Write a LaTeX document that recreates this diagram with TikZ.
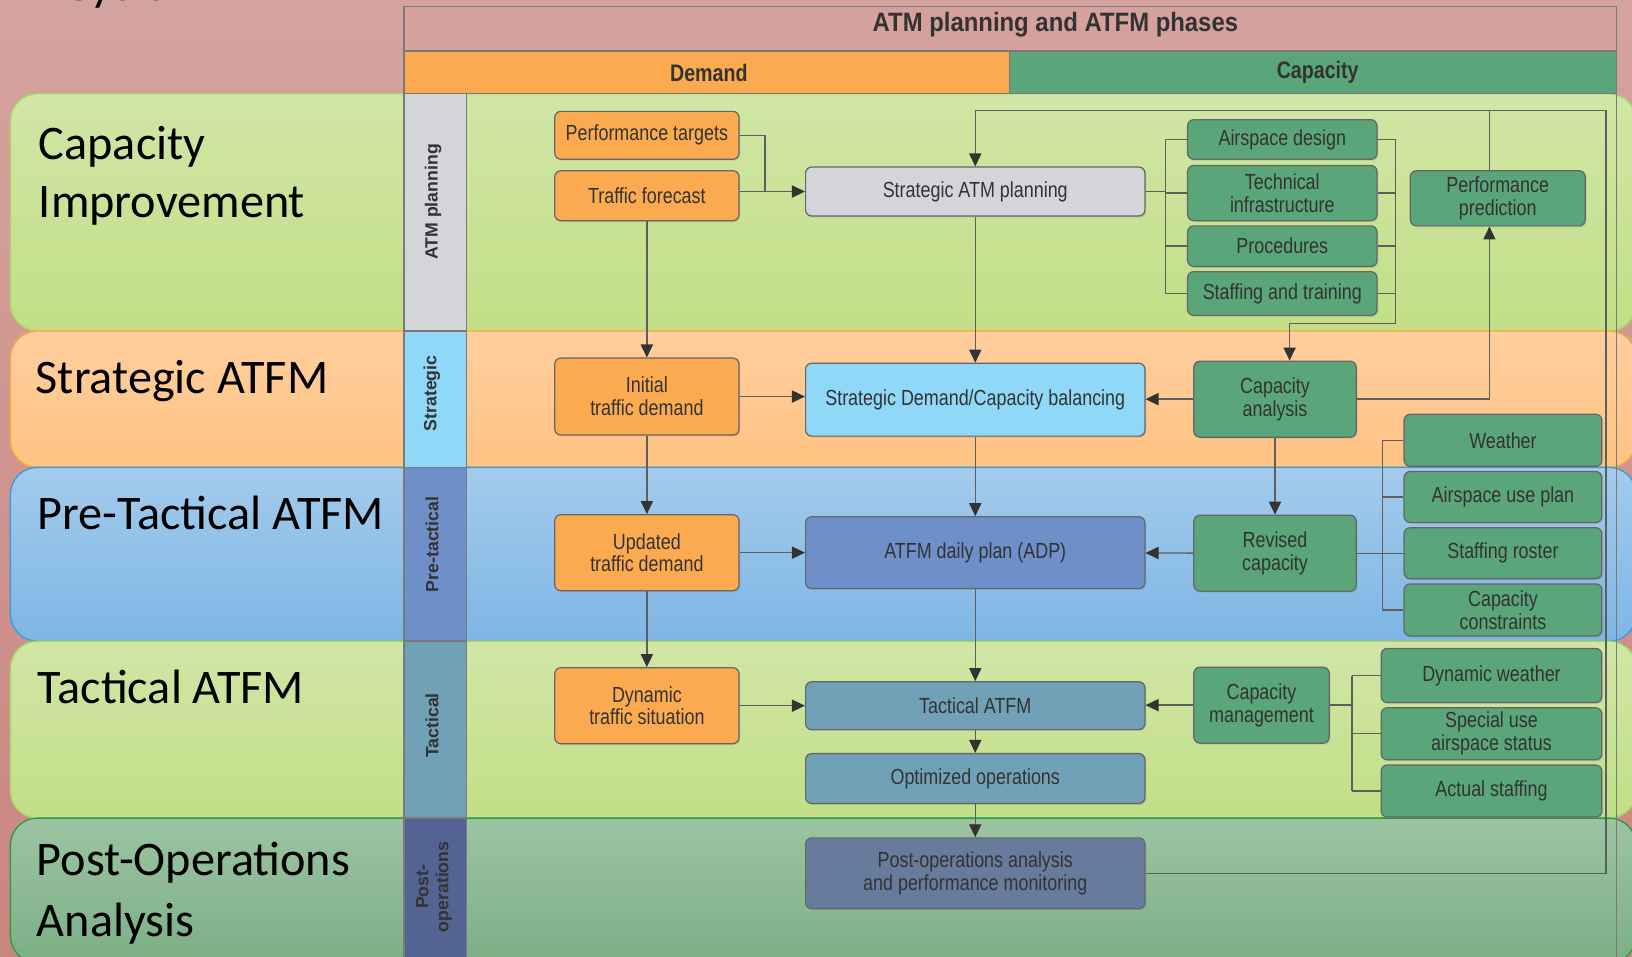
\documentclass[tikz,border=0pt]{standalone}
\usepackage{fontspec}
\setmainfont{Liberation Sans}
\newfontfamily\narrowfont[FakeStretch=0.82]{Liberation Sans}
\newfontfamily\titlefont[FakeStretch=0.9]{Liberation Sans}
\newfontfamily\lanefont{Carlito}
\usetikzlibrary{arrows.meta,shadows}

\definecolor{bgtop}{HTML}{D5A39F}
\definecolor{bgbot}{HTML}{C9867F}
\definecolor{grtop}{HTML}{D0E6A6}
\definecolor{grbot}{HTML}{C2DF86}
\definecolor{grline}{HTML}{A9D36B}
\definecolor{ortop}{HTML}{FFCE9E}
\definecolor{orbot}{HTML}{FFC383}
\definecolor{orline}{HTML}{F7AA3A}
\definecolor{bltop}{HTML}{A3CBEC}
\definecolor{blbot}{HTML}{7EB6E4}
\definecolor{blline}{HTML}{3C9AD8}
\definecolor{pstop}{HTML}{9CC4A2}
\definecolor{psbot}{HTML}{7CAF86}
\definecolor{psline}{HTML}{2F9A4A}
\definecolor{framec}{HTML}{7A7A7A}
\definecolor{titlec}{HTML}{D4A19D}
\definecolor{demfill}{HTML}{FBAA50}
\definecolor{capfill}{HTML}{5AA57A}
\definecolor{greyfill}{HTML}{D4D5D9}
\definecolor{stratfill}{HTML}{8FD8F8}
\definecolor{pretfill}{HTML}{6F8FC8}
\definecolor{tacfill}{HTML}{70A1B6}
\definecolor{postfill}{HTML}{677C9D}
\definecolor{postcell}{HTML}{536492}
\definecolor{linec}{HTML}{5E5E5E}
\definecolor{arrowc}{HTML}{333333}
\definecolor{txtc}{HTML}{333333}
\definecolor{boxline}{HTML}{666666}

\begin{document}
\begin{tikzpicture}[x=0.6pt, y=-0.6pt,
  >={Triangle[length=7.5pt, width=7pt, color=arrowc]},
  block/.style={rectangle, rounded corners=3.5pt, draw=boxline, line width=0.7pt, text=txtc, align=center, inner sep=1pt,
    font=\narrowfont\fontsize{12.6}{13.2}\selectfont,
    drop shadow={opacity=0.25, shadow xshift=0.8pt, shadow yshift=-0.8pt}},
  dembox/.style={block, fill=demfill, minimum width=106.2pt},
  midbox/.style={block, minimum width=195.6pt},
  capbox/.style={block, fill=capfill},
  band/.style={line width=0.8pt, rounded corners=15.6pt},
  cell/.style={draw=framec, line width=0.8pt},
  lbl/.style={rotate=90, align=center, text=txtc, font=\bfseries\fontsize{10.2}{11.5}\selectfont},
  lane/.style={anchor=base west, inner sep=0pt, font=\lanefont\fontsize{27.8}{33}\selectfont},
  head/.style={text=txtc, font=\narrowfont\bfseries\fontsize{13.8}{15}\selectfont}]

  \useasboundingbox (0,0) rectangle (1568,919);
  \shade[top color=bgtop, bottom color=bgbot] (0,0) rectangle (1568,919);
  \node[lane] (cyc) at (62,0) {Cycle};

  % lanes
  \path[band, draw=grline, top color=grtop, bottom color=grbot] (10,90) rectangle (1572,318);
  \path[band, draw=orline, top color=ortop, bottom color=orbot] (10,318) rectangle (1572,449);
  \path[band, draw=blline, top color=bltop, bottom color=blbot] (10,449) rectangle (1572,616);
  \path[band, draw=grline, top color=grtop, bottom color=grbot] (10,616) rectangle (1572,786);
  \path[band, draw=psline, top color=pstop, bottom color=psbot] (10,786) rectangle (1572,925);

  \node[lane] (capimp1) at (37,153) {Capacity};
  \node[lane] (capimp2) at (37,209) {Improvement};
  \node[lane] (stratl) at (34,378) {Strategic ATFM};
  \node[lane] (pretacl) at (36,509) {Pre-Tactical ATFM};
  \node[lane] (tacl) at (36,676) {Tactical ATFM};
  \node[lane] (postl1) at (35,841) {Post-Operations};
  \node[lane] (postl2) at (35,900) {Analysis};

  % frame
  \filldraw[cell, fill=titlec] (388,6) rectangle (1553,49);
  \filldraw[cell, fill=demfill] (388,49) rectangle (970,90);
  \filldraw[cell, fill=capfill] (970,49) rectangle (1553,90);
  \filldraw[cell, fill=greyfill] (388,90) rectangle (448,318);
  \filldraw[cell, fill=stratfill] (388,318) rectangle (448,449);
  \filldraw[cell, fill=pretfill] (388,449) rectangle (448,616);
  \filldraw[cell, fill=tacfill] (388,616) rectangle (448,786);
  \filldraw[cell, fill=postcell] (388,786) rectangle (448,925);
  \draw[cell] (1553,6) -- (1553,925);

  \node[text=txtc, font=\titlefont\bfseries\fontsize{15.3}{17}\selectfont] (title) at (1014,24) {ATM planning and ATFM phases};
  \node[head] (demh) at (681,70) {Demand};
  \node[head] (caph) at (1266,69) {Capacity};

  \node[lbl] (lblatm) at (416,194) {ATM planning};
  \node[lbl] (lblstr) at (415,378) {Strategic};
  \node[lbl] (lblpre) at (415,523) {Pre-tactical};
  \node[lbl] (lbltac) at (415,697) {Tactical};
  \node[lbl] (lblpost) at (417,852) {Post-\\operations};

  % demand
  \node[dembox, minimum height=27.6pt] (perft) at (621.5,130) {Performance targets};
  \node[dembox, minimum height=28.8pt] (trafc) at (621.5,188) {Traffic forecast};
  \node[dembox, minimum height=44.4pt] (initd) at (621.5,381) {Initial\\traffic demand};
  \node[dembox, minimum height=43.8pt] (updd) at (621.5,531) {Updated\\traffic demand};
  \node[dembox, minimum height=43.8pt] (dyns) at (621.5,678) {Dynamic\\traffic situation};

  % ATFM chain
  \node[midbox, fill=greyfill, minimum height=28.2pt] (satm) at (937,184) {Strategic ATM planning};
  \node[midbox, fill=stratfill, minimum height=42pt] (sdcb) at (937,384) {Strategic Demand/Capacity balancing};
  \node[midbox, fill=pretfill, minimum height=41.4pt] (adp) at (937,531) {ATFM daily plan (ADP)};
  \node[midbox, fill=tacfill, minimum height=27.6pt] (tatfm) at (937,678) {Tactical ATFM};
  \node[midbox, fill=tacfill, minimum height=28.8pt] (optops) at (937,748) {Optimized operations};
  \node[midbox, fill=postfill, minimum height=40.8pt] (postops) at (937,839) {Post-operations analysis\\and performance monitoring};

  % capacity
  \node[capbox, minimum width=109.2pt, minimum height=22.8pt] (asd) at (1232,134) {Airspace design};
  \node[capbox, minimum width=109.2pt, minimum height=31.8pt] (techinf) at (1232,185.5) {Technical\\infrastructure};
  \node[capbox, minimum width=109.2pt, minimum height=23.4pt] (proc) at (1232,236.5) {Procedures};
  \node[capbox, minimum width=109.2pt, minimum height=25.2pt] (staff) at (1232,282) {Staffing and training};
  \node[capbox, minimum width=100.8pt, minimum height=31.8pt] (perfpred) at (1439,190.5) {Performance\\prediction};
  \node[capbox, minimum width=93.6pt, minimum height=43.8pt] (capan) at (1225,383.5) {Capacity\\analysis};
  \node[capbox, minimum width=93.6pt, minimum height=43.8pt] (revcap) at (1225,531.5) {Revised\\capacity};
  \node[capbox, minimum width=78pt, minimum height=43.8pt] (capman) at (1212,677.5) {Capacity\\management};
  \node[capbox, minimum width=114pt, minimum height=30pt] (weather) at (1444,423) {Weather};
  \node[capbox, minimum width=114pt, minimum height=29.4pt] (aup) at (1444,477.5) {Airspace use plan};
  \node[capbox, minimum width=114pt, minimum height=29.4pt] (roster) at (1444,531.5) {Staffing roster};
  \node[capbox, minimum width=114pt, minimum height=30pt] (constr) at (1444,586) {Capacity\\constraints};
  \node[capbox, minimum width=127.2pt, minimum height=31.2pt] (dynw) at (1433,649) {Dynamic weather};
  \node[capbox, minimum width=127.2pt, minimum height=30pt] (sua) at (1433,705) {Special use\\airspace status};
  \node[capbox, minimum width=127.2pt, minimum height=30pt] (actst) at (1433,760) {Actual staffing};

  \coordinate (tj) at (735,184);
  \coordinate (loopr) at (1543,106);
  \coordinate (px) at (1431,0);
  \coordinate (lb) at (1120,0);
  \coordinate (rb) at (1341,0);
  \coordinate (rj) at (0,311);
  \coordinate (cj) at (1239,0);
  \coordinate (wb) at (1328,0);
  \coordinate (mb) at (1299,0);

  \begin{scope}[draw=linec, line width=0.8pt]
    \draw (perft.east) -| (tj);
    \draw[->] (trafc.east |- tj) -- (tj -| satm.west);
    \draw[->] (trafc) -- (initd);
    \draw[->] (initd) -- (updd);
    \draw[->] (updd) -- (dyns);
    \draw[->] (initd.east) -- (initd.east -| sdcb.west);
    \draw[->] (updd) -- (adp);
    \draw[->] (dyns) -- (tatfm);

    \draw[->] (satm) -- (sdcb);
    \draw[->] (sdcb) -- (adp);
    \draw[->] (adp) -- (tatfm);
    \draw[->] (tatfm) -- (optops);
    \draw[->] (optops) -- (postops);
    \draw[->] (postops.east) -| (loopr) -| (satm.north);

    \draw (px |- perfpred.north) -- (px |- loopr);
    \draw[->] (capan.east) -| (px |- perfpred.south);

    \draw (satm.east) -- (satm.east -| lb);
    \draw (asd.west -| lb) -- (staff.west -| lb);
    \draw[->] (asd.east -| rb) |- (cj |- rj) -- (cj |- capan.north);
    \foreach \n in {asd,techinf,proc,staff} {
      \draw (\n.west) -- (\n.west -| lb);
      \draw (\n.east) -- (\n.east -| rb);
    }

    \draw[->] (capan.west) -- (capan.west -| sdcb.east);
    \draw[->] (capan) -- (revcap);
    \draw[->] (revcap) -- (adp);
    \draw (revcap.east) -- (revcap.east -| wb);
    \draw (weather.west -| wb) -- (constr.west -| wb);
    \foreach \n in {weather,aup,roster,constr}
      \draw (\n.west) -- (\n.west -| wb);

    \draw[->] (capman.west) -- (capman.west -| tatfm.east);
    \draw (capman.east) -- (capman.east -| mb);
    \draw (dynw.west -| mb) -- (actst.west -| mb);
    \foreach \n in {dynw,sua,actst}
      \draw (\n.west) -- (\n.west -| mb);
  \end{scope}
\end{tikzpicture}
\end{document}
